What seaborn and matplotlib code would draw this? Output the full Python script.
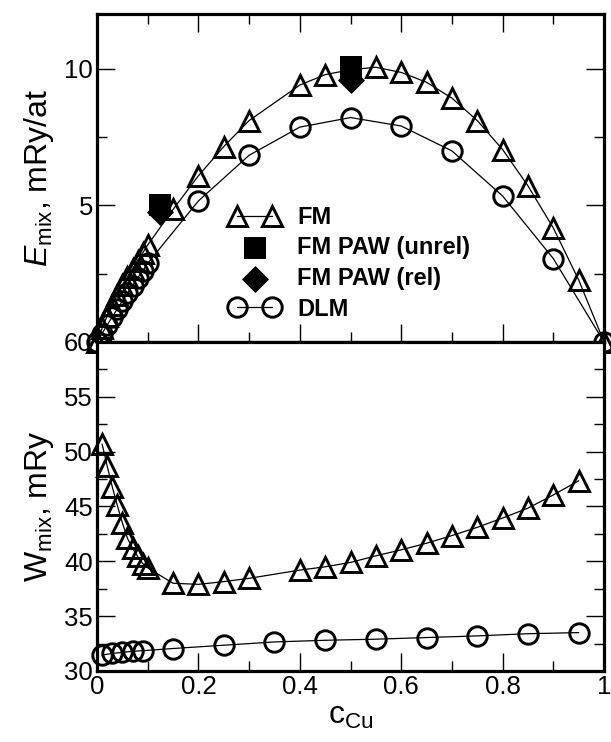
import numpy as np
import pandas as pd
import matplotlib
matplotlib.use("Agg")
import matplotlib.pyplot as plt
from matplotlib.ticker import MultipleLocator
import seaborn as sns

# ---------------- data ----------------
# Top panel: mixing energy, mRy/at
fm_c = [0.0, 0.01, 0.02, 0.03, 0.04, 0.05, 0.06, 0.07, 0.08, 0.09, 0.10,
        0.15, 0.20, 0.25, 0.30, 0.40, 0.45, 0.50, 0.55, 0.60, 0.65, 0.70,
        0.75, 0.80, 0.85, 0.90, 0.95, 1.0]
fm_E = [0.0, 0.50, 0.95, 1.36, 1.73, 2.07, 2.37, 2.68, 2.98, 3.26, 3.55,
        4.85, 6.08, 7.15, 8.10, 9.40, 9.78, 9.96, 10.05, 9.86, 9.50, 8.92,
        8.10, 7.04, 5.71, 4.17, 2.27, 0.0]

dlm_c = [0.0, 0.01, 0.02, 0.03, 0.04, 0.05, 0.06, 0.07, 0.08, 0.09, 0.10,
         0.20, 0.30, 0.40, 0.50, 0.60, 0.70, 0.80, 0.90, 1.0]
dlm_E = [0.0, 0.31, 0.62, 0.92, 1.21, 1.50, 1.78, 2.06, 2.34, 2.60, 2.88,
         5.16, 6.83, 7.86, 8.21, 7.90, 6.99, 5.34, 3.05, 0.0]

paw_c = [0.125, 0.50]
paw_unrel_E = [5.00, 10.05]
paw_rel_E = [4.75, 9.60]

# Bottom panel: W_mix, mRy
fmw_c = [0.01, 0.02, 0.03, 0.04, 0.05, 0.06, 0.07, 0.08, 0.09, 0.10,
         0.15, 0.20, 0.25, 0.30, 0.40, 0.45, 0.50, 0.55, 0.60, 0.65, 0.70,
         0.75, 0.80, 0.85, 0.90, 0.95]
fm_W = [50.7, 48.7, 46.8, 45.1, 43.5, 42.1, 41.2, 40.45, 39.8, 39.4,
        38.0, 37.9, 38.15, 38.45, 39.2, 39.5, 39.9, 40.5, 41.05, 41.65, 42.35,
        43.1, 43.95, 44.85, 46.05, 47.35]

dlmw_c = [0.01, 0.03, 0.05, 0.07, 0.09, 0.15, 0.25, 0.35, 0.45, 0.55,
          0.65, 0.75, 0.85, 0.95]
dlm_W = [31.45, 31.6, 31.7, 31.8, 31.85, 32.05, 32.35, 32.65, 32.8, 32.9,
         33.05, 33.2, 33.4, 33.5]

labels = ["FM", "FM PAW (unrel)", "FM PAW (rel)", "DLM"]
xticks = [0, 0.2, 0.4, 0.6, 0.8, 1]
xticklabels = ["0", "0.2", "0.4", "0.6", "0.8", "1"]

# ---------------- style ----------------
sns.set_theme(style="ticks")
plt.rcParams["font.family"] = ["Liberation Sans", "DejaVu Sans"]
plt.rcParams["mathtext.fontset"] = "custom"
plt.rcParams["mathtext.rm"] = "Liberation Sans"
plt.rcParams["mathtext.it"] = "Liberation Sans:italic"
plt.rcParams["mathtext.bf"] = "Liberation Sans:bold"
for k in ("text.color", "axes.labelcolor", "xtick.color", "ytick.color",
          "axes.edgecolor"):
    plt.rcParams[k] = "black"

fig = plt.figure(figsize=(6.11, 7.42), dpi=100)
ax1 = fig.add_axes([0.1588, 0.5391, 0.8298, 0.4421])
ax2 = fig.add_axes([0.1588, 0.0957, 0.8298, 0.4434])

line_kw = dict(color="black", linewidth=0.9, markerfacecolor="none",
               markeredgecolor="black", markeredgewidth=2.1, clip_on=False)

df_fm = pd.DataFrame({"c": fm_c, "E": fm_E})
df_dlm = pd.DataFrame({"c": dlm_c, "E": dlm_E})
df_paw = pd.DataFrame({"c": paw_c, "unrel": paw_unrel_E, "rel": paw_rel_E})
df_fmw = pd.DataFrame({"c": fmw_c, "W": fm_W})
df_dlmw = pd.DataFrame({"c": dlmw_c, "W": dlm_W})

sns.lineplot(data=df_fm, x="c", y="E", ax=ax1, marker="^", markersize=15,
             label=labels[0], **line_kw)
sns.scatterplot(data=df_paw, x="c", y="unrel", ax=ax1, marker="s", s=230,
                color="black", edgecolor="black", linewidth=0, label=labels[1],
                zorder=4)
sns.scatterplot(data=df_paw, x="c", y="rel", ax=ax1, marker="D", s=190,
                color="black", edgecolor="black", linewidth=0, label=labels[2],
                zorder=4)
sns.lineplot(data=df_dlm, x="c", y="E", ax=ax1, marker="o", markersize=14,
             label=labels[3], **line_kw)

sns.lineplot(data=df_fmw, x="c", y="W", ax=ax2, marker="^", markersize=15,
             legend=False, **line_kw)
sns.lineplot(data=df_dlmw, x="c", y="W", ax=ax2, marker="o", markersize=14,
             legend=False, **line_kw)

# ---------------- axes ----------------
for ax in (ax1, ax2):
    ax.set_xlim(0, 1)
    ax.xaxis.set_major_locator(MultipleLocator(0.2))
    ax.xaxis.set_minor_locator(MultipleLocator(0.1))
    for sp in ax.spines.values():
        sp.set_linewidth(2.3)
        sp.set_visible(True)
    ax.tick_params(which="major", direction="in", length=13, width=1.0,
                   labelsize=18.5, pad=3, colors="black")
    ax.tick_params(which="minor", direction="in", length=7, width=1.0)

ax1.set_ylim(0, 12)
ax1.yaxis.set_major_locator(MultipleLocator(5))
ax1.yaxis.set_minor_locator(MultipleLocator(2.5))
ax1.tick_params(which="both", top=True, right=True, bottom=True,
                labelbottom=False)
ax1.set_yticks([0, 5, 10])
ax1.set_yticklabels(["", "5", "10"])
ax1.set_xlabel("")
ax1.set_ylabel(r"$E_{\mathrm{mix}}$, mRy/at", fontsize=23, labelpad=6)

ax2.set_ylim(30, 60)
ax2.yaxis.set_major_locator(MultipleLocator(5))
ax2.yaxis.set_minor_locator(MultipleLocator(2.5))
ax2.tick_params(which="both", top=False, right=True)
ax2.set_xticks(xticks)
ax2.set_xticklabels(xticklabels)
ax2.set_xlabel(r"c$_{\mathrm{Cu}}$", fontsize=23, labelpad=1)
ax2.set_ylabel(r"W$_{\mathrm{mix}}$, mRy", fontsize=23, labelpad=6)

handles, labs = ax1.get_legend_handles_labels()
leg = ax1.legend(handles, labs, loc="upper left", bbox_to_anchor=(0.262, 0.415),
                 frameon=False, numpoints=2, scatterpoints=1, handlelength=2.1,
                 handletextpad=0.75, labelspacing=0.32, borderpad=0,
                 borderaxespad=0, prop={"weight": "bold", "size": 17})

fig.savefig("out.png", dpi=100)
